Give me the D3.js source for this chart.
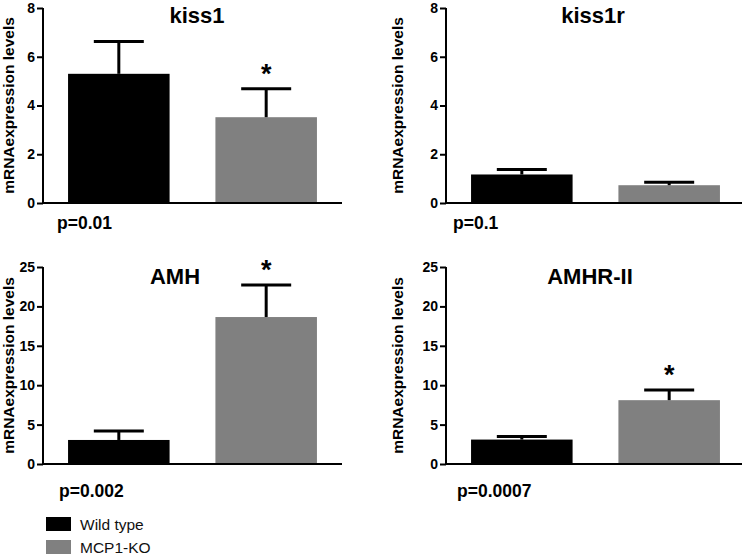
<!DOCTYPE html>
<html>
<head>
<meta charset="utf-8">
<script src="https://cdn.jsdelivr.net/npm/d3@7"></script>
<style>
  html, body { margin: 0; padding: 0; background: #fff; }
  svg { display: block; font-family: "Liberation Sans", Arial, sans-serif; }
</style>
</head>
<body>
<svg id="chart" width="742" height="555"></svg>
<script>
// ---- data ----
const genes = ["kiss1", "kiss1r", "AMH", "AMHR-II"];
const groups = ["Wild type", "MCP1-KO"];
const wildType = [5.3, 1.17, 3.05, 3.1];
const wildTypeSem = [1.33, 0.2, 1.15, 0.4];
const mcp1KO = [3.52, 0.73, 18.65, 8.1];
const mcp1KOSem = [1.17, 0.12, 4.05, 1.3];
const pValues = ["p=0.01", "p=0.1", "p=0.002", "p=0.0007"];
const starKO = [true, false, true, true];
const yMax = [8, 8, 25, 25];
const yTicks = [[0, 2, 4, 6, 8], [0, 2, 4, 6, 8], [0, 5, 10, 15, 20, 25], [0, 5, 10, 15, 20, 25]];
const yLabel = "mRNAexpression levels";

// ---- layout ----
const colors = ["#000000", "#808080"];
const panelX = [43, 446, 43, 446];
const panelY = [8, 8, 267, 267];
const plotHs = [195, 195, 197, 197];
const plotW = 299;
const titleX = [197, 593, 175, 590];
const titleY = [23, 23, 284, 284];
const pvalX = [57, 453, 59, 457];
const pvalY = [229, 229, 497, 497];
const ylabX = [14, 403, 14, 403];

const svg = d3.select("#chart");

genes.forEach((g, i) => {
  const plotH = plotHs[i];
  const gp = svg.append("g").attr("transform", `translate(${panelX[i]},${panelY[i]})`);
  const x = d3.scaleBand().domain(groups).range([0, plotW]).paddingInner(0.311).paddingOuter(0.17);
  const y = d3.scaleLinear().domain([0, yMax[i]]).range([plotH, 0]);
  const vals = [wildType[i], mcp1KO[i]];
  const sems = [wildTypeSem[i], mcp1KOSem[i]];
  const data = groups.map((k, j) => ({ k, v: vals[j], e: sems[j], c: colors[j] }));

  // bars
  gp.selectAll("rect.bar").data(data).join("rect")
    .attr("class", "bar")
    .attr("x", d => x(d.k))
    .attr("width", x.bandwidth())
    .attr("y", d => y(d.v))
    .attr("height", d => plotH - y(d.v))
    .attr("fill", d => d.c);

  // error bars (upper only)
  const capHalf = 25;
  data.forEach(d => {
    const cx = x(d.k) + x.bandwidth() / 2;
    gp.append("line").attr("x1", cx).attr("x2", cx)
      .attr("y1", y(d.v)).attr("y2", y(d.v + d.e))
      .attr("stroke", "#000").attr("stroke-width", 3);
    gp.append("line").attr("x1", cx - capHalf).attr("x2", cx + capHalf)
      .attr("y1", y(d.v + d.e)).attr("y2", y(d.v + d.e))
      .attr("stroke", "#000").attr("stroke-width", 3);
  });

  // significance star
  if (starKO[i]) {
    const d = data[1];
    gp.append("text")
      .attr("x", x(d.k) + x.bandwidth() / 2)
      .attr("y", y(d.v + d.e) - 21 + 15)
      .attr("text-anchor", "middle")
      .attr("font-size", 27).attr("font-weight", "bold")
      .text("*");
  }

  // y axis
  const ya = d3.axisLeft(y).tickValues(yTicks[i]).tickSize(6).tickPadding(2).tickFormat(d3.format("d"));
  const yg = gp.append("g").call(ya);
  yg.select(".domain").attr("stroke-width", 2).attr("d", `M0,0V${plotH}`);
  yg.selectAll(".tick line").attr("stroke-width", 2);
  yg.selectAll(".tick text").attr("font-size", 14).attr("font-weight", "bold")
    .attr("font-family", "Liberation Sans, Arial, sans-serif").attr("fill", "#000");

  // x axis line
  gp.append("line").attr("x1", 0).attr("x2", plotW).attr("y1", plotH).attr("y2", plotH)
    .attr("stroke", "#000").attr("stroke-width", 2);

  // y label
  svg.append("text")
    .attr("transform", `translate(${ylabX[i]},${panelY[i] + plotH / 2}) rotate(-90)`)
    .attr("text-anchor", "middle")
    .attr("font-size", 15.5).attr("font-weight", "bold")
    .text(yLabel);

  // title
  svg.append("text")
    .attr("x", titleX[i]).attr("y", titleY[i])
    .attr("text-anchor", "middle")
    .attr("font-size", 22).attr("font-weight", "bold")
    .text(g);

  // p value
  svg.append("text")
    .attr("x", pvalX[i]).attr("y", pvalY[i])
    .attr("font-size", 17.5).attr("font-weight", "bold")
    .text(pValues[i]);
});

// legend
const leg = svg.append("g");
groups.forEach((k, j) => {
  leg.append("rect").attr("x", 46).attr("y", 517 + j * 23).attr("width", 25).attr("height", 14).attr("fill", colors[j]);
  leg.append("text").attr("x", 80).attr("y", 530 + j * 23)
    .attr("font-size", 15.5).attr("fill", "#111").text(k);
});
</script>
</body>
</html>
